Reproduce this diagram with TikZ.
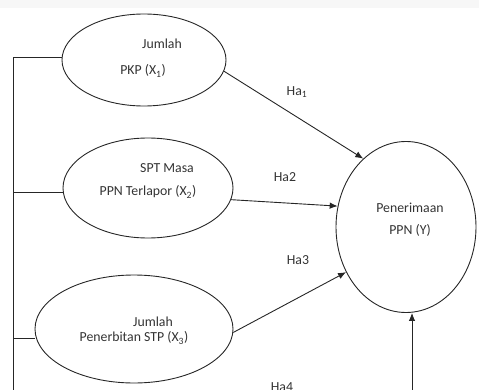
\documentclass[tikz,border=0pt]{standalone}
\usepackage{fontspec}
\setmainfont{Carlito}
\usetikzlibrary{arrows.meta,shapes.geometric}
\begin{document}
\begin{tikzpicture}[x=1pt,y=1pt,
  oval/.style={draw=black!85,line width=0.9pt,ellipse,inner sep=0pt},
  lbl/.style={inner sep=0pt,font=\fontsize{13.8}{15}\selectfont,text=black!80},
  conn/.style={draw=black!85,line width=0.9pt},
  arr/.style={conn,-{Latex[length=8pt,width=6.5pt]}}]
\useasboundingbox (0,0) rectangle (479,389);
\fill[black!3] (0,381) rectangle (479,389);
% ellipses
\node[oval,minimum width=164pt,minimum height=92pt] (e1) at (144,329) {};
\node[oval,minimum width=170pt,minimum height=100pt] (e2) at (148,201) {};
\node[oval,minimum width=198pt,minimum height=108pt] (e3) at (134,60) {};
\node[oval,minimum width=140pt,minimum height=171pt] (y) at (406,162) {};
% texts
\node[lbl] (t1a) at (162,345) {Jumlah};
\node[lbl] (t1b) at (143,318) {PKP (X\textsubscript{1})};
\node[lbl] (t2a) at (167,221) {SPT Masa};
\node[lbl] (t2b) at (148,197) {PPN Terlapor (X\textsubscript{2})};
\node[lbl] (t3a) at (153,67) {Jumlah};
\node[lbl] (t3b) at (134,51) {Penerbitan STP (X\textsubscript{3})};
\node[lbl] (tya) at (410,181) {Penerimaan};
\node[lbl] (tyb) at (410,159) {PPN (Y)};
% hypothesis labels
\node[lbl] (h1) at (297,297) {Ha\textsubscript{1}};
\node[lbl] (h2) at (285,212) {Ha2};
\node[lbl] (h3) at (298,129) {Ha3};
\node[lbl] (h4) at (282,2) {Ha4};
% left bus
\coordinate (btop) at (13,332);
\coordinate (bbot) at (13,-2);
\coordinate (b2) at (13,197);
\coordinate (b3) at (13,51);
\draw[conn] (bbot) -- (btop) -- (btop -| e1.west);
\draw[conn] (b2) -- (b2 -| e2.west);
\draw[conn] (b3) -- (b3 -| e3.west);
% arrows
\draw[arr] (e1.-8) -- (y.122);
\draw[arr] (e2.-8) -- (y.163);
\draw[arr] (e3.-2) -- (y.217);
\coordinate (c4) at (412,-2);
\draw[arr] (c4) -- (c4 |- y.south);
\end{tikzpicture}
\end{document}
